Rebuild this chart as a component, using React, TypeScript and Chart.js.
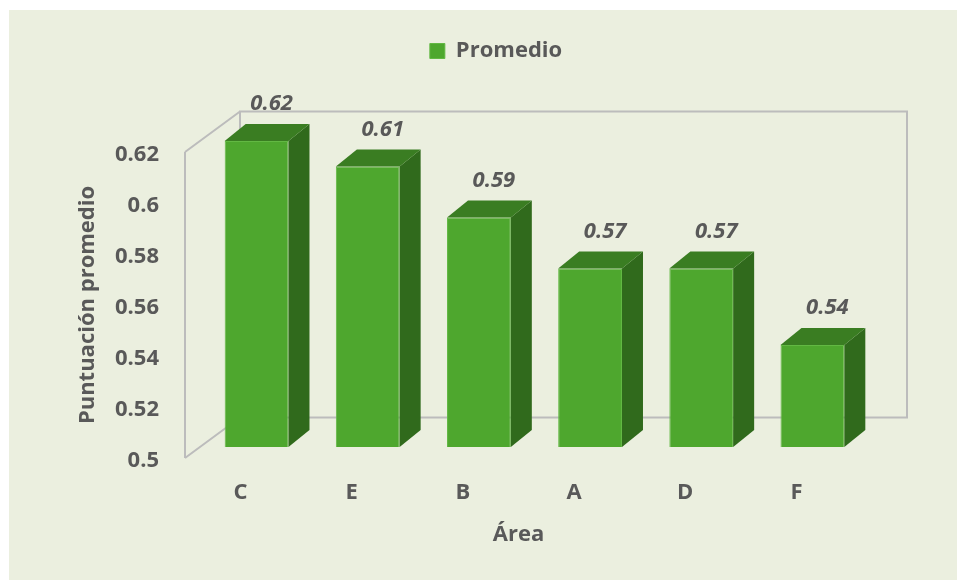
import React, { useEffect, useRef } from 'react';
import { Chart, registerables } from 'chart.js';

Chart.register(...registerables);

const categories = ['C', 'E', 'B', 'A', 'D', 'F'];
const promedio = [0.62, 0.61, 0.59, 0.57, 0.57, 0.54];
const yTicks = [0.5, 0.52, 0.54, 0.56, 0.58, 0.6, 0.62];
const seriesLabel = 'Promedio';
const xTitle = 'Área';
const yTitle = 'Puntuación promedio';

const FONT = "'Open Sans', 'Noto Sans', sans-serif";
const TEXT = '#595959';
const LINE = '#BCBCBC';
const FRONT = '#4EA72E';
const FRONT_EDGE = '#62B843';
const TOP = '#3A7D22';
const SIDE = '#306A1C';
const PANEL = '#EBEFDF';

// 3D geometry (pixels)
const WALL = { dx: 55, dy: -40.5 };
const BAR_SHIFT = { dx: 16, dy: -11 };
const BAR_DEPTH = { dx: 21, dy: -17 };
const LEGEND_SHIFT = 70;

const threeD = {
  id: 'threeD',
  afterLayout(chart: any) {
    const lg = chart.legend;
    if (lg) {
      lg.left += LEGEND_SHIFT;
      lg.right += LEGEND_SHIFT;
    }
  },
  beforeDraw(chart: any) {
    const ctx = chart.ctx;
    ctx.save();
    ctx.fillStyle = PANEL;
    ctx.fillRect(9, 10, chart.width - 9, chart.height - 10);
    ctx.restore();
  },
  beforeDatasetsDraw(chart: any) {
    const ctx = chart.ctx;
    const { left: L, right: R, top: T, bottom: B } = chart.chartArea;
    ctx.save();
    ctx.strokeStyle = LINE;
    ctx.lineWidth = 2;
    ctx.beginPath();
    ctx.moveTo(L, T);
    ctx.lineTo(L, B);
    ctx.moveTo(L, T);
    ctx.lineTo(L + WALL.dx, T + WALL.dy);
    ctx.moveTo(L, B);
    ctx.lineTo(L + WALL.dx, B + WALL.dy);
    ctx.stroke();
    ctx.strokeRect(L + WALL.dx, T + WALL.dy, R - L, B - T);
    ctx.restore();
    ctx.save();
    ctx.translate(BAR_SHIFT.dx, BAR_SHIFT.dy);
  },
  afterDatasetsDraw(chart: any) {
    const ctx = chart.ctx;
    ctx.restore();
    const meta = chart.getDatasetMeta(0);
    const data = chart.data.datasets[0].data as number[];
    meta.data.forEach((el: any, i: number) => {
      const p = el.getProps(['x', 'y', 'base', 'width'], true);
      const l = p.x - p.width / 2 + BAR_SHIFT.dx;
      const r = p.x + p.width / 2 + BAR_SHIFT.dx;
      const t = p.y + BAR_SHIFT.dy;
      const b = p.base + BAR_SHIFT.dy;
      ctx.save();
      // side face
      ctx.fillStyle = SIDE;
      ctx.beginPath();
      ctx.moveTo(r, t);
      ctx.lineTo(r + BAR_DEPTH.dx, t + BAR_DEPTH.dy);
      ctx.lineTo(r + BAR_DEPTH.dx, b + BAR_DEPTH.dy);
      ctx.lineTo(r, b);
      ctx.closePath();
      ctx.fill();
      // top face
      ctx.fillStyle = TOP;
      ctx.beginPath();
      ctx.moveTo(l, t);
      ctx.lineTo(l + BAR_DEPTH.dx, t + BAR_DEPTH.dy);
      ctx.lineTo(r + BAR_DEPTH.dx, t + BAR_DEPTH.dy);
      ctx.lineTo(r, t);
      ctx.closePath();
      ctx.fill();
      // value label
      ctx.fillStyle = TEXT;
      ctx.font = `italic bold 22px ${FONT}`;
      ctx.textAlign = 'center';
      ctx.textBaseline = 'middle';
      ctx.fillText(data[i].toFixed(2), p.x + BAR_SHIFT.dx + 15, t + BAR_DEPTH.dy - 20);
      ctx.restore();
    });
  },
};

export default function App() {
  const ref = useRef<HTMLCanvasElement | null>(null);
  useEffect(() => {
    document.body.style.margin = '0';
    const canvas = ref.current;
    if (!canvas) return;
    const chart = new Chart(canvas, {
      type: 'bar',
      data: {
        labels: categories,
        datasets: [
          {
            label: seriesLabel,
            data: promedio,
            base: yTicks[0],
            backgroundColor: FRONT,
            borderColor: FRONT_EDGE,
            borderWidth: 1,
            barPercentage: 1,
            categoryPercentage: 0.574,
            clip: false as any,
          } as any,
        ],
      },
      options: {
        responsive: false,
        animation: false,
        devicePixelRatio: 1,
        layout: { padding: { top: 30, left: 0, right: 105, bottom: 0 } },
        plugins: {
          legend: {
            display: true,
            position: 'top',
            weight: 1000,
            labels: {
              boxWidth: 15,
              boxHeight: 15,
              padding: 10,
              color: TEXT,
              font: { family: FONT, size: 22, weight: 'bold' },
            },
          } as any,
          title: {
            display: true,
            text: '',
            weight: 500,
            font: { size: 10, lineHeight: 1 },
            padding: { top: 0, bottom: 70 },
          } as any,
          tooltip: { enabled: false },
        },
        scales: {
          x: {
            grid: { display: false, drawTicks: false },
            border: { display: false },
            ticks: {
              color: TEXT,
              font: { family: FONT, size: 22, weight: 'bold' },
              padding: 22,
              autoSkip: false,
              maxRotation: 0,
            },
            title: {
              display: true,
              text: xTitle,
              color: TEXT,
              font: { family: FONT, size: 22, weight: 'bold' },
              padding: { top: 0, bottom: 32 },
            },
            afterFit(scale: any) {
              scale.height = 122;
            },
          },
          y: {
            min: yTicks[0],
            max: yTicks[yTicks.length - 1],
            grid: { display: false, drawTicks: false },
            border: { display: false },
            afterBuildTicks(scale: any) {
              scale.ticks = yTicks.map((v) => ({ value: v }));
            },
            ticks: {
              color: TEXT,
              font: { family: FONT, size: 22, weight: 'bold' },
              padding: 26,
              labelOffset: 3,
              callback: (v: any) => String(Math.round(Number(v) * 100) / 100),
            },
            title: {
              display: true,
              text: yTitle,
              color: TEXT,
              font: { family: FONT, size: 22, weight: 'bold' },
              padding: { top: 75, bottom: 0 },
            },
            afterFit(scale: any) {
              scale.width = 185;
            },
          },
        },
      },
      plugins: [threeD],
    });
    return () => chart.destroy();
  }, []);
  return <canvas ref={ref} width={957} height={580} style={{ display: 'block' }} />;
}
